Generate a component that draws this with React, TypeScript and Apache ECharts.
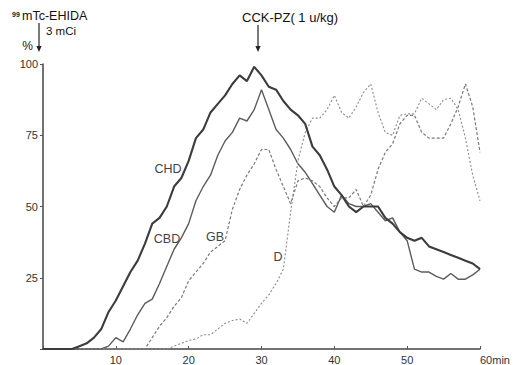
import { useEffect, useRef } from "react";
import * as echarts from "echarts";

// Time-activity curves after 99mTc-EHIDA, one reading per minute (0–60 min), in %
const CHD = [
  0, 0, 0, 0, 0, 1, 2, 4, 7, 13,
  17, 22, 27, 31, 37, 44, 46, 50, 57, 60,
  66, 74, 77, 83, 86, 89, 93, 96, 94, 99,
  96, 92, 91, 87, 84, 82, 79, 71, 68, 63,
  57, 54, 50, 48, 50, 50, 50, 46, 44, 41,
  39, 38, 39, 36, 35, 34, 33, 32, 31, 30,
  28,
];
const CBD = [
  0, 0, 0, 0, 0, 0, 0, 0, 0, 1,
  4, 2.5, 7, 12, 16, 17.5, 23, 29, 35, 39,
  44, 52, 57, 61, 68, 73, 76, 81, 80, 84,
  91, 84, 77, 74, 70, 65, 62, 58, 54, 50,
  48, 54, 51, 50, 50, 51, 48, 45, 46, 41,
  38, 28, 27, 27, 25.5, 24.5, 26.5, 24.5, 24.5, 26,
  28,
];
const GB = [
  0, 0, 0, 0, 0, 0, 0, 0, 0, 0,
  0, 0, 0, 0, 0, 4, 8, 11, 15, 18,
  24, 27, 30, 34, 36, 38, 49, 56, 61, 65,
  70, 70, 63, 57, 51, 59, 60, 59, 57, 53,
  50, 53, 53, 56, 50, 54, 63, 69, 72, 79,
  82, 82, 76, 74, 74, 74, 79, 85, 93, 85,
  69,
];
const D = [
  0, 0, 0, 0, 0, 0, 0, 0, 0, 0,
  0, 0, 0, 0, 0, 0, 0, 0, 1, 2,
  3, 3.5, 5, 5, 7, 9, 10, 10.5, 9, 12.5,
  16, 19, 23, 28, 48, 66, 76, 81, 81, 84,
  89, 83, 81, 85, 90, 93, 83, 76, 75, 82,
  82.5, 82.5, 88, 86, 84, 87.5, 88, 84, 74, 61,
  52,
];

const X_MAX = 60;
const X_STEP = 10;
const Y_MAX = 100;
const Y_STEP = 25;

const FONT = "'Liberation Sans', Arial, Helvetica, sans-serif";

const toPairs = (arr: number[]) => arr.map((v, i) => [i, v]);

function arrowDown(x: number, y1: number, y2: number) {
  return [
    {
      type: "line",
      shape: { x1: x, y1, x2: x, y2: y2 - 4 },
      style: { stroke: "#222", lineWidth: 1.2 },
    },
    {
      type: "polygon",
      shape: { points: [[x - 2.6, y2 - 6], [x + 2.6, y2 - 6], [x, y2]] },
      style: { fill: "#222" },
    },
  ];
}

function label(text: string, x: number, y: number, size = 12.5, fill = "#444", align = "center") {
  return {
    type: "text",
    x,
    y,
    style: { text, fontSize: size, fontFamily: FONT, fill, align, verticalAlign: "middle" },
  };
}

export default function App() {
  const ref = useRef<HTMLDivElement>(null);

  useEffect(() => {
    const chart = echarts.init(ref.current!, null, { renderer: "svg" });

    const series = [
      { name: "CHD", data: CHD, color: "#3c3c3c", width: 2.1, type: "solid" as any },
      { name: "CBD", data: CBD, color: "#5c5c5c", width: 1.4, type: "solid" as any },
      { name: "GB", data: GB, color: "#7a7a7a", width: 1.2, type: [3, 2] as any },
      { name: "D", data: D, color: "#8a8a8a", width: 1.1, type: [2, 2] as any },
    ].map((s) => ({
      name: s.name,
      type: "line",
      data: toPairs(s.data),
      symbol: "none",
      smooth: false,
      lineStyle: { color: s.color, width: s.width, type: s.type },
      z: s.name === "CHD" ? 4 : 3,
    }));

    chart.setOption({
      animation: false,
      backgroundColor: "#ffffff",
      grid: { left: 43, right: 35, top: 64, bottom: 13 },
      xAxis: {
        type: "value",
        min: 0,
        max: X_MAX,
        interval: X_STEP,
        splitLine: { show: false },
        axisLine: { lineStyle: { color: "#444", width: 1.5 } },
        axisTick: { inside: true, length: 3, lineStyle: { color: "#555" } },
        axisLabel: {
          margin: 5,
          fontSize: 11,
          color: "#333",
          fontFamily: FONT,
          alignMaxLabel: "left",
          formatter: (v: number) => (v === 0 ? "" : v === X_MAX ? `${v}min` : String(v)),
        },
      },
      yAxis: {
        type: "value",
        min: 0,
        max: Y_MAX,
        interval: Y_STEP,
        name: "%",
        nameLocation: "end",
        nameGap: 12,
        nameTextStyle: {
          fontSize: 12,
          color: "#222",
          fontFamily: FONT,
          align: "right",
          verticalAlign: "bottom",
          padding: [0, 10, 0, 0],
        },
        splitLine: { show: false },
        axisLine: { show: true, lineStyle: { color: "#444", width: 1.5 } },
        axisTick: { show: true, inside: false, length: 3, lineStyle: { color: "#555" } },
        axisLabel: {
          margin: 5,
          fontSize: 11,
          color: "#333",
          fontFamily: FONT,
          formatter: (v: number) => (v === 0 ? "" : String(v)),
        },
      },
      series,
      graphic: [
        // injection marker
        { type: "text", x: 12, y: 14, style: { text: "99", fontSize: 7, fontWeight: "bold", fontFamily: FONT, fill: "#222", align: "left", verticalAlign: "middle" } },
        label("mTc-EHIDA", 22, 16, 12.5, "#111", "left"),
        label("3 mCi", 46, 30.5, 11.5, "#111", "left"),
        ...arrowDown(39, 23, 52),
        // CCK-PZ stimulation marker
        label("CCK-PZ( 1 u/kg)", 242, 17, 13, "#111", "left"),
        ...arrowDown(258, 25, 52),
        // curve names
        label("CHD", 168, 169),
        label("CBD", 167, 239),
        label("GB", 215, 237),
        label("D", 278, 257),
      ],
    });

    return () => chart.dispose();
  }, []);

  return (
    <div
      ref={ref}
      style={{ position: "fixed", left: 0, top: 0, width: 515, height: 365, background: "#fff" }}
    />
  );
}
